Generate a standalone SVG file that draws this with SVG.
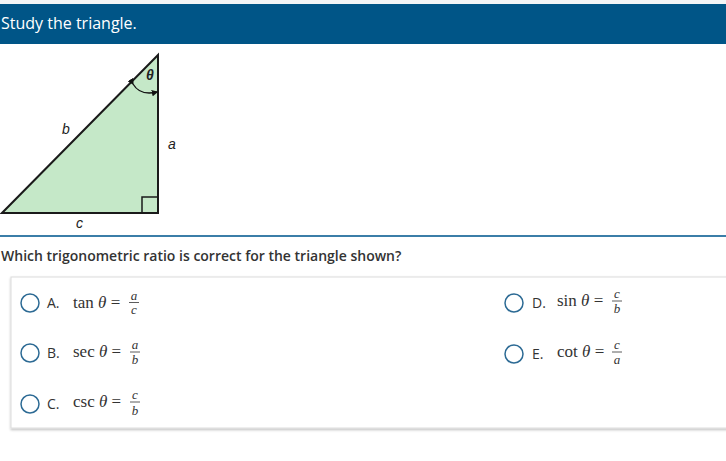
<svg xmlns="http://www.w3.org/2000/svg" width="726" height="461" viewBox="0 0 726 461">
<defs>
<style>
.ui{font-family:"Open Sans","Noto Sans",sans-serif;}
.m{font-family:"Liberation Serif","DejaVu Serif",serif;font-size:17px;fill:#333;}
.fr{font-family:"Liberation Serif","DejaVu Serif",serif;font-size:13px;font-style:italic;fill:#333;text-anchor:middle;}
.lbl{font-family:"Open Sans","Noto Sans",sans-serif;font-size:14px;fill:#333;}
.rad{fill:#fff;stroke:#2c6a94;stroke-width:1.5;}
.tl{font-family:"Liberation Sans","DejaVu Sans",sans-serif;font-size:14px;font-style:italic;fill:#222;}
</style>
<marker id="ah" viewBox="0 0 10 10" refX="8" refY="5" markerWidth="5" markerHeight="5" orient="auto"><path d="M0,0 L10,5 L0,10 z" fill="#111"/></marker>
<filter id="sh" x="-5%" y="-5%" width="110%" height="115%"><feDropShadow dx="0" dy="1.5" stdDeviation="1" flood-color="#000" flood-opacity="0.25"/></filter>
</defs>
<rect width="726" height="461" fill="#fff"/>
<rect x="0" y="0" width="726" height="4" fill="#f2f5f7"/>
<g id="header">
<rect x="0" y="4" width="726" height="40" fill="#005587"/>
<text x="1" y="29" class="ui" font-size="16" font-weight="500" fill="#fff">Study the triangle.</text>
</g>
<g id="triangle">
<polygon points="2,213 158,213 158,55" fill="#c5e8c8" stroke="#1a1a1a" stroke-width="2" stroke-linejoin="miter"/>
<polyline points="142,213 142,197 158,197" fill="none" stroke="#1a1a1a" stroke-width="1.5"/>
<path d="M133,84 Q140,96 157,92" fill="none" stroke="#111" stroke-width="1.3" marker-start="url(#ah)" marker-end="url(#ah)"/>
<text x="146" y="80" class="tl" font-size="12" font-weight="bold">θ</text>
<text x="62" y="134" class="tl">b</text>
<text x="168" y="149" class="tl">a</text>
<text x="76" y="228" class="tl">c</text>
</g>
<line x1="0" y1="236" x2="726" y2="236" stroke="#3b7ea8" stroke-width="2"/>
<text x="1" y="261" class="ui" font-size="14" font-weight="600" fill="#333">Which trigonometric ratio is correct for the triangle shown?</text>
<g id="answers">
<rect x="11" y="277" width="720" height="151" fill="#fff" stroke="#dcdcdc" stroke-width="1" filter="url(#sh)"/>
<g id="optA">
<circle cx="30" cy="303" r="9" class="rad"/>
<text x="47" y="308" class="lbl">A.</text>
<text x="73" y="308" class="m">tan <tspan font-style="italic">θ</tspan> = </text>
<text x="134" y="300" class="fr">a</text>
<line x1="129" y1="302.5" x2="139" y2="302.5" stroke="#333" stroke-width="0.8"/>
<text x="134" y="314" class="fr">c</text>
</g>
<g id="optB">
<circle cx="30" cy="353" r="9" class="rad"/>
<text x="47" y="358" class="lbl">B.</text>
<text x="73" y="357" class="m">sec <tspan font-style="italic">θ</tspan> = </text>
<text x="135" y="349" class="fr">a</text>
<line x1="130" y1="352" x2="140" y2="352" stroke="#333" stroke-width="0.8"/>
<text x="135" y="364" class="fr">b</text>
</g>
<g id="optC">
<circle cx="30" cy="404" r="9" class="rad"/>
<text x="47" y="409" class="lbl">C.</text>
<text x="73" y="407" class="m">csc <tspan font-style="italic">θ</tspan> = </text>
<text x="135" y="399" class="fr">c</text>
<line x1="130" y1="402" x2="140" y2="402" stroke="#333" stroke-width="0.8"/>
<text x="135" y="415" class="fr">b</text>
</g>
<g id="optD">
<circle cx="514" cy="303" r="9" class="rad"/>
<text x="532" y="308" class="lbl">D.</text>
<text x="557" y="306" class="m">sin <tspan font-style="italic">θ</tspan> = </text>
<text x="617" y="298" class="fr">c</text>
<line x1="612" y1="301" x2="622" y2="301" stroke="#333" stroke-width="0.8"/>
<text x="617" y="313" class="fr">b</text>
</g>
<g id="optE">
<circle cx="514" cy="354" r="9" class="rad"/>
<text x="532" y="359" class="lbl">E.</text>
<text x="557" y="357" class="m">cot <tspan font-style="italic">θ</tspan> = </text>
<text x="617" y="349" class="fr">c</text>
<line x1="612" y1="352" x2="622" y2="352" stroke="#333" stroke-width="0.8"/>
<text x="617" y="364" class="fr">a</text>
</g>
</g>
</svg>
